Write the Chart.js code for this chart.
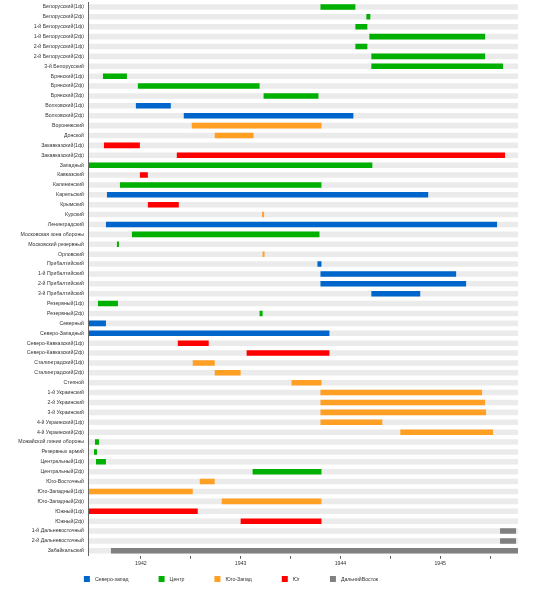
<!DOCTYPE html>
<html>
<head>
<meta charset="utf-8">
<script src="https://cdn.jsdelivr.net/npm/chart.js@4/dist/chart.umd.min.js"></script>
<style>
  html, body { margin: 0; padding: 0; background: #fff; }
  .chart-container { width: 551px; height: 597px; }
</style>
</head>
<body>
<div class="chart-container"><canvas id="myChart"></canvas></div>
<script>
const fronts = [
  'Белорусский(1ф)', 'Белорусский(2ф)', '1-й Белорусский(1ф)', '1-й Белорусский(2ф)',
  '2-й Белорусский(1ф)', '2-й Белорусский(2ф)', '3-й Белорусский',
  'Брянский(1ф)', 'Брянский(2ф)', 'Брянский(3ф)', 'Волховский(1ф)', 'Волховский(2ф)',
  'Воронежский', 'Донской', 'Закавказский(1ф)', 'Закавказский(2ф)', 'Западный',
  'Кавказский', 'Калининский', 'Карельский', 'Крымский', 'Курский', 'Ленинградский',
  'Московская зона обороны', 'Московский резервный', 'Орловский', 'Прибалтийский',
  '1-й Прибалтийский', '2-й Прибалтийский', '3-й Прибалтийский', 'Резервный(1ф)',
  'Резервный(2ф)', 'Северный', 'Северо-Западный', 'Северо-Кавказский(1ф)',
  'Северо-Кавказский(2ф)', 'Сталинградский(1ф)', 'Сталинградский(2ф)', 'Степной',
  '1-й Украинский', '2-й Украинский', '3-й Украинский', '4-й Украинский(1ф)',
  '4-й Украинский(2ф)', 'Можайской линии обороны', 'Резервных армий',
  'Центральный(1ф)', 'Центральный(2ф)', 'Юго-Восточный', 'Юго-Западный(1ф)',
  'Юго-Западный(2ф)', 'Южный(1ф)', 'Южный(2ф)', '1-й Дальневосточный',
  '2-й Дальневосточный', 'Забайкальский'
];

const regions = ['Северо-запад', 'Центр', 'Юго-Запад', 'Юг', 'ДальнийВосток'];
const regionColors = ['#0066cc', '#00b000', '#ffa024', '#ff0000', '#808080'];

// index into regions, one per front
const frontRegion = [
  1, 1, 1, 1, 1, 1, 1, 1, 1, 1,
  0, 0, 2, 2, 3, 3, 1, 3, 1, 0,
  3, 2, 0, 1, 1, 2, 0, 0, 0, 0,
  1, 1, 0, 0, 3, 3, 2, 2, 2, 2,
  2, 2, 2, 2, 1, 1, 1, 1, 2, 2,
  2, 3, 3, 4, 4, 4
];

// years as decimals
const startYear = [
  1943.80, 1944.26, 1944.15, 1944.29, 1944.15, 1944.31, 1944.31, 1941.62, 1941.97, 1943.23,
  1941.95, 1942.43, 1942.51, 1942.74, 1941.63, 1942.36, 1941.47, 1941.99, 1941.79, 1941.66,
  1942.07, 1943.215, 1941.65, 1941.91, 1941.76, 1943.22, 1943.77, 1943.80, 1943.80, 1944.31,
  1941.57, 1943.19, 1941.47, 1941.47, 1942.37, 1943.06, 1942.52, 1942.74, 1943.51, 1943.80,
  1943.80, 1943.80, 1943.80, 1944.60, 1941.54, 1941.53, 1941.55, 1943.12, 1942.59, 1941.47,
  1942.81, 1941.47, 1943.00, 1945.60, 1945.60, 1941.70
];
const endYear = [
  1944.15, 1944.30, 1944.27, 1945.45, 1944.27, 1945.45, 1945.63, 1941.86, 1943.19, 1943.78,
  1942.30, 1944.13, 1943.81, 1943.13, 1941.99, 1945.65, 1944.32, 1942.07, 1943.81, 1944.88,
  1942.38, 1943.235, 1945.57, 1943.79, 1941.78, 1943.24, 1943.81, 1945.16, 1945.26, 1944.80,
  1941.77, 1943.22, 1941.65, 1943.89, 1942.68, 1943.89, 1942.74, 1943.00, 1943.81, 1945.42,
  1945.45, 1945.46, 1944.42, 1945.53, 1941.58, 1941.56, 1941.65, 1943.81, 1942.74, 1942.52,
  1943.81, 1942.57, 1943.81, 1945.76, 1945.76, 1945.78
];

const tickYears = [1942, 1943, 1944, 1945];
const xMin = 1941.47;
const xMax = 1945.78;

const FONT_FAMILY = '"Liberation Sans", Arial, sans-serif';
const FONT_SIZE = 5.2;
const TEXT_COLOR = '#333';

let datasets = regions.map((name, r) => ({
  label: name,
  data: fronts.map((f, i) => frontRegion[i] === r ? [startYear[i], endYear[i]] : null),
  backgroundColor: regionColors[r],
  borderWidth: 0,
  grouped: false,
  order: 0,
  barPercentage: 0.56,
  categoryPercentage: 1
}));

// light grey track behind every row
datasets.push({
  label: 'track',
  data: fronts.map(() => [xMin, xMax]),
  backgroundColor: '#ebebeb',
  borderWidth: 0,
  grouped: false,
  order: 10,
  barPercentage: 0.56,
  categoryPercentage: 1
});

// legend drawn by hand so spacing/offset match the picture
const bottomLegend = {
  id: 'bottomLegend',
  afterDraw(chart) {
    const ctx = chart.ctx;
    ctx.save();
    ctx.font = FONT_SIZE + 'px ' + FONT_FAMILY;
    ctx.textBaseline = 'middle';
    ctx.fillStyle = TEXT_COLOR;
    const box = 6, gap = 30;
    const widths = regions.map(r => box + 5 + ctx.measureText(r).width);
    const total = widths.reduce((a, b) => a + b, 0) + gap * (regions.length - 1);
    let x = 231 - total / 2;
    const y = chart.height - 18;
    regions.forEach((r, i) => {
      ctx.fillStyle = regionColors[i];
      ctx.fillRect(x, y - box / 2, box, box);
      ctx.fillStyle = TEXT_COLOR;
      ctx.fillText(r, x + box + 5, y + 0.5);
      x += widths[i] + gap;
    });
    ctx.restore();
  }
};

let ctx = document.getElementById('myChart').getContext('2d');
new Chart(ctx, {
  type: 'bar',
  data: { labels: fronts, datasets: datasets },
  plugins: [bottomLegend],
  options: {
    indexAxis: 'y',
    responsive: true,
    maintainAspectRatio: false,
    animation: false,
    layout: { padding: { top: 2, right: 33, bottom: 28, left: 0 } },
    plugins: {
      legend: { display: false },
      tooltip: { enabled: false }
    },
    scales: {
      x: {
        type: 'linear',
        min: xMin,
        max: xMax,
        border: { display: false },
        grid: { display: true, drawOnChartArea: false, tickLength: 3, color: '#555' },
        ticks: {
          stepSize: 0.5,
          includeBounds: false,
          padding: 2,
          maxRotation: 0,
          autoSkip: false,
          color: TEXT_COLOR,
          font: { family: FONT_FAMILY, size: FONT_SIZE },
          // half-year ticks get a mark but no label; nothing before 1942
          callback: v => tickYears.includes(v) ? String(v) : (v < tickYears[0] ? null : '')
        }
      },
      y: {
        afterFit(scale) {
          scale.width = 88;
          scale.paddingTop = 0;
          scale.paddingBottom = 0;
        },
        border: { display: true, color: '#666', width: 1, z: 1 },
        grid: { display: false, drawTicks: false },
        ticks: {
          padding: 4,
          autoSkip: false,
          color: TEXT_COLOR,
          font: { family: FONT_FAMILY, size: FONT_SIZE }
        }
      }
    }
  }
});
</script>
</body>
</html>
